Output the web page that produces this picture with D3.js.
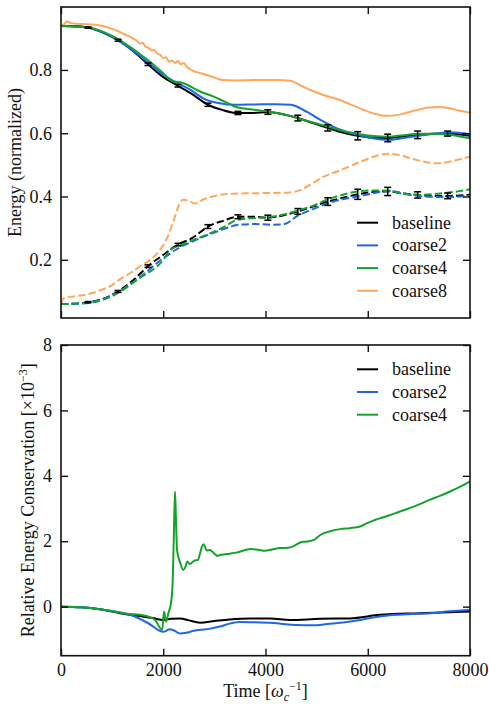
<!DOCTYPE html>
<html>
<head>
<meta charset="utf-8">
<script src="https://cdn.jsdelivr.net/npm/d3@7"></script>
<style>
  html, body { margin: 0; padding: 0; background: #fff; }
  svg { display: block; }
  svg text { font-family: "Times New Roman", Times, "Liberation Serif", serif; }
</style>
</head>
<body>
<svg id="chart" width="489" height="706"></svg>
<script>
// ---- data -------------------------------------------------------------
// baseline run, sampled on a grid that includes the error-bar times
const baseT = [0, 250, 530, 820, 1116, 1410, 1702, 1995, 2288, 2580, 2874, 3167, 3460, 3753, 4046, 4339, 4632, 4925, 5218, 5511, 5804, 6097, 6390, 6683, 6976, 7269, 7562, 7855, 8000];
const baseSolid = [0.939, 0.939, 0.934, 0.918, 0.894, 0.860, 0.818, 0.778, 0.750, 0.722, 0.690, 0.673, 0.664, 0.664, 0.667, 0.660, 0.648, 0.632, 0.617, 0.602, 0.592, 0.586, 0.585, 0.590, 0.595, 0.598, 0.599, 0.595, 0.592];
const baseDashed = [0.060, 0.061, 0.066, 0.076, 0.100, 0.135, 0.180, 0.215, 0.248, 0.270, 0.305, 0.323, 0.336, 0.336, 0.333, 0.340, 0.353, 0.368, 0.384, 0.396, 0.407, 0.414, 0.416, 0.410, 0.405, 0.402, 0.402, 0.404, 0.406];
// error bars: every other baseline sample, starting at index 2
const errIndex = [2, 4, 6, 8, 10, 12, 14, 16, 18, 20, 22, 24, 26];
const errSolid = [0.002, 0.003, 0.004, 0.004, 0.005, 0.005, 0.007, 0.009, 0.010, 0.013, 0.012, 0.012, 0.008];
const errDashed = [0.002, 0.003, 0.004, 0.004, 0.006, 0.006, 0.008, 0.009, 0.012, 0.016, 0.013, 0.010, 0.009];

const c2SolidT = [0, 500, 1000, 1500, 2000, 2200, 2500, 2850, 3100, 3400, 3800, 4200, 4500, 4800, 5100, 5400, 5800, 6100, 6400, 6700, 7000, 7300, 7600, 8000];
const c2Solid = [0.939, 0.934, 0.905, 0.850, 0.785, 0.765, 0.740, 0.705, 0.695, 0.690, 0.691, 0.692, 0.690, 0.668, 0.640, 0.615, 0.595, 0.584, 0.579, 0.585, 0.592, 0.598, 0.603, 0.597];
const c2DashedT = [0, 500, 1000, 1500, 2000, 2300, 2600, 2900, 3200, 3440, 3800, 4100, 4350, 4636, 4900, 5222, 5500, 5809, 6100, 6400, 6700, 6983, 7300, 7550, 7800, 8000];
const c2Dashed = [0.060, 0.064, 0.088, 0.140, 0.205, 0.237, 0.260, 0.280, 0.298, 0.310, 0.313, 0.311, 0.312, 0.340, 0.358, 0.379, 0.391, 0.400, 0.410, 0.418, 0.408, 0.402, 0.399, 0.398, 0.400, 0.402];

const c4SolidT = [0, 500, 1000, 1500, 2000, 2150, 2400, 2720, 3000, 3200, 3440, 3700, 4070, 4400, 4636, 4950, 5222, 5500, 5809, 6100, 6400, 6700, 6983, 7300, 7550, 7800, 8000];
const c4Solid = [0.939, 0.935, 0.908, 0.856, 0.790, 0.767, 0.758, 0.732, 0.715, 0.700, 0.682, 0.676, 0.668, 0.658, 0.647, 0.633, 0.621, 0.608, 0.598, 0.591, 0.589, 0.594, 0.598, 0.598, 0.596, 0.590, 0.584];
const c4DashedT = [0, 500, 1000, 1500, 2000, 2130, 2400, 2850, 3200, 3440, 3800, 4070, 4350, 4636, 4950, 5222, 5500, 5809, 6100, 6400, 6700, 6983, 7300, 7550, 7800, 8000];
const c4Dashed = [0.060, 0.063, 0.085, 0.138, 0.200, 0.229, 0.250, 0.279, 0.305, 0.326, 0.332, 0.335, 0.343, 0.356, 0.372, 0.391, 0.405, 0.416, 0.419, 0.419, 0.410, 0.405, 0.408, 0.412, 0.417, 0.423];

const c8SolidT = [0, 60, 120, 200, 400, 600, 800, 1000, 1150, 1250, 1350, 1420, 1480, 1550, 1600, 1650, 1720, 1780, 1830, 1880, 1940, 2000, 2060, 2110, 2170, 2230, 2290, 2340, 2400, 2460, 2520, 2600, 2700, 2850, 3000, 3170, 3400, 3800, 4200, 4480, 4700, 4900, 5130, 5400, 5650, 5900, 6150, 6370, 6600, 6900, 7200, 7400, 7600, 7800, 8000];
const c8Solid = [0.938, 0.945, 0.953, 0.948, 0.945, 0.944, 0.940, 0.930, 0.920, 0.912, 0.905, 0.898, 0.893, 0.884, 0.886, 0.874, 0.869, 0.861, 0.864, 0.852, 0.848, 0.838, 0.840, 0.826, 0.830, 0.822, 0.828, 0.818, 0.822, 0.810, 0.803, 0.796, 0.791, 0.784, 0.776, 0.768, 0.767, 0.768, 0.768, 0.766, 0.750, 0.735, 0.721, 0.708, 0.692, 0.675, 0.661, 0.655, 0.658, 0.671, 0.681, 0.683, 0.679, 0.671, 0.665];
const c8DashedT = [0, 50, 150, 500, 760, 1000, 1150, 1400, 1545, 1750, 1940, 2050, 2150, 2230, 2300, 2390, 2500, 2620, 2800, 2970, 3250, 3600, 4000, 4480, 4680, 4900, 5130, 5450, 5790, 6100, 6400, 6650, 6830, 7100, 7360, 7600, 7800, 8000];
const c8Dashed = [0.060, 0.078, 0.082, 0.090, 0.103, 0.120, 0.138, 0.163, 0.179, 0.200, 0.232, 0.260, 0.300, 0.337, 0.370, 0.390, 0.386, 0.378, 0.392, 0.400, 0.408, 0.410, 0.411, 0.413, 0.420, 0.440, 0.462, 0.482, 0.505, 0.525, 0.535, 0.530, 0.521, 0.510, 0.505, 0.510, 0.518, 0.526];

// relative energy conservation, units of 1e-3
const consBaseT = [0, 400, 760, 1150, 1500, 1800, 2000, 2150, 2330, 2500, 2720, 3000, 3300, 3700, 4090, 4480, 5070, 5650, 6240, 7020, 8000];
const consBase = [0, -0.02, -0.08, -0.20, -0.28, -0.35, -0.41, -0.37, -0.36, -0.42, -0.49, -0.44, -0.39, -0.36, -0.36, -0.41, -0.37, -0.36, -0.25, -0.20, -0.15];
const consC2T = [0, 400, 760, 1000, 1350, 1700, 2000, 2130, 2200, 2330, 2450, 2600, 2720, 2900, 3110, 3300, 3500, 3800, 4090, 4300, 4580, 5000, 5260, 5600, 5850, 6100, 6430, 6800, 7220, 7600, 8000];
const consC2 = [0, -0.02, -0.08, -0.14, -0.25, -0.50, -0.77, -0.69, -0.72, -0.82, -0.80, -0.74, -0.71, -0.68, -0.61, -0.52, -0.47, -0.48, -0.49, -0.52, -0.56, -0.57, -0.52, -0.47, -0.41, -0.33, -0.26, -0.23, -0.20, -0.14, -0.10];
const consC4T = [0, 400, 760, 1000, 1300, 1545, 1700, 1840, 1980, 2015, 2055, 2100, 2150, 2180, 2205, 2230, 2250, 2270, 2330, 2390, 2430, 2470, 2520, 2600, 2680, 2720, 2760, 2790, 2850, 2910, 3000, 3060, 3110, 3200, 3300, 3450, 3600, 3700, 3850, 3990, 4130, 4280, 4450, 4550, 4680, 4800, 4950, 5070, 5250, 5460, 5650, 5850, 6000, 6140, 6400, 6630, 6900, 7220, 7400, 7610, 7800, 8000];
const consC4 = [0, -0.02, -0.08, -0.13, -0.22, -0.25, -0.30, -0.41, -0.71, -0.15, -0.46, -0.20, 0.10, 0.60, 2.00, 3.52, 2.60, 1.73, 1.35, 1.12, 1.20, 1.38, 1.30, 1.40, 1.43, 1.63, 1.85, 1.91, 1.72, 1.73, 1.62, 1.55, 1.58, 1.60, 1.62, 1.66, 1.73, 1.76, 1.74, 1.71, 1.75, 1.79, 1.80, 1.85, 1.96, 1.99, 2.04, 2.19, 2.30, 2.37, 2.40, 2.45, 2.56, 2.65, 2.78, 2.91, 3.06, 3.27, 3.38, 3.52, 3.66, 3.83];

const xTicks = [0, 2000, 4000, 6000, 8000];
const yTicksTop = [0.2, 0.4, 0.6, 0.8];
const yTicksBottom = [0, 2, 4, 6, 8];

const colors = { baseline: "#000000", coarse2: "#2266e8", coarse4: "#14a32a", coarse8: "#ffa85c" };

// ---- layout -------------------------------------------------------------
const serif = '"Times New Roman", Times, "Liberation Serif", serif';
const svg = d3.select("#chart");
const left = 61, right = 470;
const top1 = 7, bottom1 = 318;
const top2 = 345, bottom2 = 655.7;
const fontSize = 18;
const lw = 2;
const dash = "7.4,3.2";
const tickLen = 7;

const x = d3.scaleLinear().domain([0, 8000]).range([left, right]);
const y1 = d3.scaleLinear().domain([0.016, 0.999]).range([bottom1, top1]);
const y2 = d3.scaleLinear().domain([-1.5, 8]).range([bottom2, top2]);

const defs = svg.append("defs");
defs.append("clipPath").attr("id", "clip1").append("rect")
  .attr("x", left).attr("y", top1).attr("width", right - left).attr("height", bottom1 - top1);
defs.append("clipPath").attr("id", "clip2").append("rect")
  .attr("x", left).attr("y", top2).attr("width", right - left).attr("height", bottom2 - top2);

function drawLine(g, ts, vs, yScale, color, dashed) {
  const pts = ts.map((t, i) => [t, vs[i]]);
  g.append("path")
    .datum(pts)
    .attr("fill", "none")
    .attr("stroke", color)
    .attr("stroke-width", lw)
    .attr("stroke-linejoin", "round")
    .attr("stroke-dasharray", dashed ? dash : null)
    .attr("d", d3.line().curve(d3.curveMonotoneX).x(d => x(d[0])).y(d => yScale(d[1])));
}

function drawFrame(yScale, yTicks, top, bottom, fmt, showXLabels) {
  const g = svg.append("g");
  // axes with inward ticks on all four sides
  const ax = [
    { a: d3.axisBottom(x).tickValues(xTicks).tickSize(-tickLen).tickPadding(8).tickFormat(showXLabels ? d3.format("d") : () => ""), t: `translate(0,${bottom})` },
    { a: d3.axisTop(x).tickValues(xTicks).tickSize(-tickLen).tickFormat(() => ""), t: `translate(0,${top})` },
    { a: d3.axisLeft(yScale).tickValues(yTicks).tickSize(-tickLen).tickPadding(9).tickFormat(fmt), t: `translate(${left},0)` },
    { a: d3.axisRight(yScale).tickValues(yTicks).tickSize(-tickLen).tickFormat(() => ""), t: `translate(${right},0)` }
  ];
  ax.forEach(o => {
    const s = g.append("g").attr("transform", o.t).call(o.a).attr("font-family", serif);
    s.select(".domain").remove();
    s.selectAll("line").attr("stroke", "#000").attr("stroke-width", 1.3);
    s.selectAll("text").style("font-family", serif).attr("font-size", fontSize).attr("fill", "#111");
  });
  g.append("rect")
    .attr("x", left).attr("y", top).attr("width", right - left).attr("height", bottom - top)
    .attr("fill", "none").attr("stroke", "#111").attr("stroke-width", 1.6);
}

// ---- top panel: energy partition --------------------------------------
const p1 = svg.append("g").attr("clip-path", "url(#clip1)");
drawLine(p1, c8SolidT, c8Solid, y1, colors.coarse8, false);
drawLine(p1, c8DashedT, c8Dashed, y1, colors.coarse8, true);
drawLine(p1, baseT, baseSolid, y1, colors.baseline, false);
drawLine(p1, baseT, baseDashed, y1, colors.baseline, true);
drawLine(p1, c2SolidT, c2Solid, y1, colors.coarse2, false);
drawLine(p1, c2DashedT, c2Dashed, y1, colors.coarse2, true);
drawLine(p1, c4SolidT, c4Solid, y1, colors.coarse4, false);
drawLine(p1, c4DashedT, c4Dashed, y1, colors.coarse4, true);

// baseline error bars
function drawErrors(vals, errs) {
  errIndex.forEach((idx, k) => {
    const cx = x(baseT[idx]);
    const yTop = y1(vals[idx] + errs[k]);
    const yBot = y1(vals[idx] - errs[k]);
    const g = p1.append("g").attr("stroke", "#000").attr("stroke-width", 1.5);
    g.append("line").attr("x1", cx).attr("x2", cx).attr("y1", yTop).attr("y2", yBot);
    g.append("line").attr("x1", cx - 3.5).attr("x2", cx + 3.5).attr("y1", yTop).attr("y2", yTop);
    g.append("line").attr("x1", cx - 3.5).attr("x2", cx + 3.5).attr("y1", yBot).attr("y2", yBot);
  });
}
drawErrors(baseSolid, errSolid);
drawErrors(baseDashed, errDashed);

drawFrame(y1, yTicksTop, top1, bottom1, d3.format(".1f"), false);

// ---- bottom panel: relative energy conservation -----------------------
const p2 = svg.append("g").attr("clip-path", "url(#clip2)");
drawLine(p2, consBaseT, consBase, y2, colors.baseline, false);
drawLine(p2, consC2T, consC2, y2, colors.coarse2, false);
drawLine(p2, consC4T, consC4, y2, colors.coarse4, false);

drawFrame(y2, yTicksBottom, top2, bottom2, d3.format("d"), true);

// ---- legends ------------------------------------------------------------
function legend(names, y0) {
  const g = svg.append("g");
  names.forEach((n, i) => {
    const yy = y0 + i * 22.7;
    g.append("line").attr("x1", 357).attr("x2", 378).attr("y1", yy).attr("y2", yy)
      .attr("stroke", colors[n]).attr("stroke-width", lw);
    g.append("text").attr("x", 392).attr("y", yy).attr("dy", "0.33em")
      .style("font-family", serif).attr("font-size", fontSize).attr("fill", "#111").text(n);
  });
}
legend(["baseline", "coarse2", "coarse4", "coarse8"], 222.7);
legend(["baseline", "coarse2", "coarse4"], 369.3);

// ---- axis labels ------------------------------------------------------------
const xl = svg.append("text").attr("x", (left + right) / 2).attr("y", 697)
  .attr("text-anchor", "middle").style("font-family", serif).attr("font-size", fontSize).attr("fill", "#111");
xl.append("tspan").text("Time [");
xl.append("tspan").attr("font-style", "italic").text("ω");
xl.append("tspan").attr("font-style", "italic").attr("font-size", 12).attr("dy", 4).text("c");
xl.append("tspan").attr("font-size", 12).attr("dy", -11).text("−1");
xl.append("tspan").attr("dy", 7).text("]");

svg.append("text")
  .attr("transform", `translate(21,${(top1 + bottom1) / 2}) rotate(-90)`)
  .attr("text-anchor", "middle").style("font-family", serif).attr("font-size", fontSize).attr("fill", "#111")
  .text("Energy (normalized)");

const yl2 = svg.append("text")
  .attr("transform", `translate(34,${(top2 + bottom2) / 2}) rotate(-90)`)
  .attr("text-anchor", "middle").style("font-family", serif).attr("font-size", fontSize).attr("fill", "#111");
yl2.append("tspan").text("Relative Energy Conservation [×10");
yl2.append("tspan").attr("font-size", 12).attr("dy", -7).text("−3");
yl2.append("tspan").attr("dy", 7).text("]");
</script>
</body>
</html>
